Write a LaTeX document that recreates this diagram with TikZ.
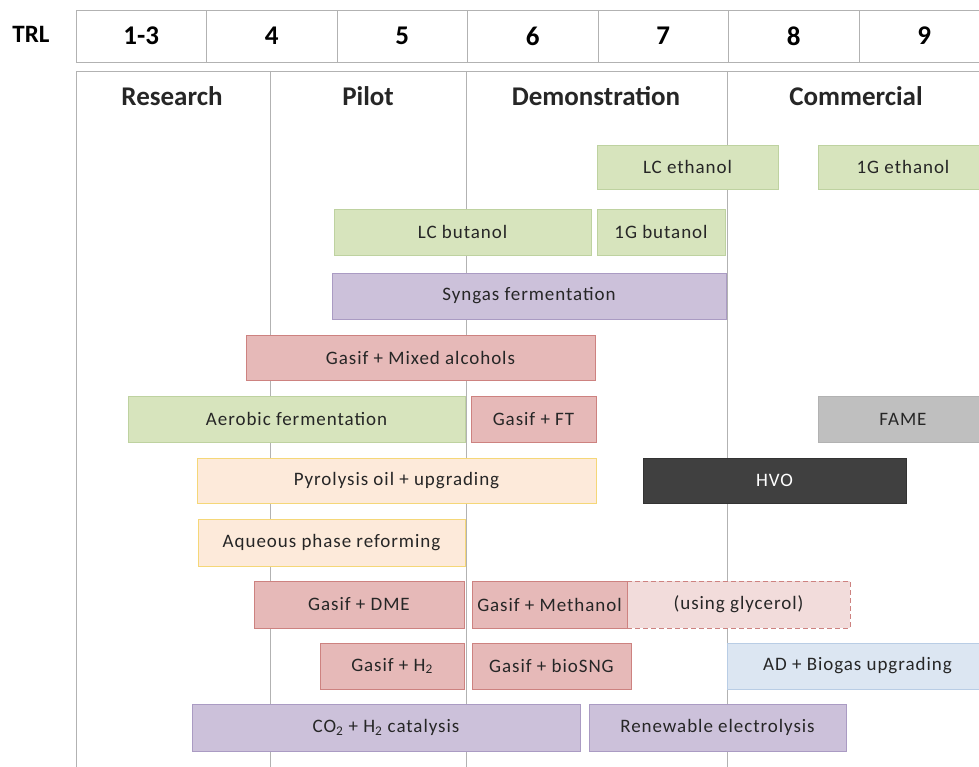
\documentclass[tikz,border=0pt]{standalone}
\usepackage{fontspec}
\setmainfont{Carlito}
\newfontfamily\barfont[LetterSpace=5]{Carlito}
\definecolor{gline}{RGB}{178,178,178}
\definecolor{gfill}{RGB}{215,228,189}
\definecolor{gdraw}{RGB}{190,210,160}
\definecolor{rfill}{RGB}{230,185,184}
\definecolor{rdraw}{RGB}{205,130,128}
\definecolor{pfill}{RGB}{204,193,218}
\definecolor{pdraw}{RGB}{170,155,195}
\definecolor{ofill}{RGB}{253,234,218}
\definecolor{odraw}{RGB}{245,215,120}
\definecolor{bfill}{RGB}{220,230,242}
\definecolor{bdraw}{RGB}{185,205,229}
\definecolor{pkfill}{RGB}{242,220,219}
\definecolor{txt}{RGB}{38,38,38}
\tikzset{
  bar/.style={rectangle, inner sep=0pt, text=txt, font=\barfont\fontsize{19}{21}\selectfont, line width=0.8pt},
  greenbar/.style={bar, fill=gfill, draw=gdraw},
  redbar/.style={bar, fill=rfill, draw=rdraw},
  purplebar/.style={bar, fill=pfill, draw=pdraw},
  orangebar/.style={bar, fill=ofill, draw=odraw},
  bluebar/.style={bar, fill=bfill, draw=bdraw},
  greybar/.style={bar, fill=black!25, draw=black!30},
  darkbar/.style={bar, fill=black!75, draw=black!80, text=white},
  dashbar/.style={bar, fill=pkfill, draw=rdraw, dash pattern=on 5pt off 3pt},
  cell/.style={rectangle, draw=gline, line width=0.8pt, inner sep=0pt, minimum height=52pt, minimum width=130.5pt, font=\fontsize{27}{29}\selectfont\bfseries, text=black},
  head/.style={font=\fontsize{27}{29}\selectfont\bfseries, text=txt, inner sep=0pt},
  trlhead/.style={font=\fontsize{25}{27}\selectfont\bfseries, text=black, inner sep=0pt},
  grid/.style={draw=gline, line width=0.8pt}
}
\newcommand\mkbar[7]{\node[#2, minimum width={(#5-#3)*1pt}, minimum height={(#6-#4)*1pt}] (#1) at ({(#3+#5)/2},{(#4+#6)/2}) {#7};}
\begin{document}
\begin{tikzpicture}[x=1pt,y=-1pt]
\useasboundingbox (0,0) rectangle (979,767);
\clip (0,0) rectangle (979,767);
% TRL row
\node[trlhead] (trl) at (31,34) {TRL};
\foreach \t [count=\i from 0] in {1-3,4,5,6,7,8,9} {
  \node[cell] (c\i) at ({76+130.5*\i+65.25},36) {\t};
}
% stage frame
\coordinate (f0) at (76,71);
\coordinate (f0b) at (76,767);
\coordinate (f1) at (270,71);
\coordinate (f1b) at (270,767);
\coordinate (f2) at (466,71);
\coordinate (f2b) at (466,767);
\coordinate (f3) at (727,71);
\coordinate (f3b) at (727,767);
\coordinate (fr) at (990,71);
\draw[grid] (f0) -- (fr);
\draw[grid] (f0) -- (f0b);
\draw[grid] (f1) -- (f1b);
\draw[grid] (f2) -- (f2b);
\draw[grid] (f3) -- (f3b);
\node[head] (research) at (172,96) {Research};
\node[head] (pilot) at (368,96) {Pilot};
\node[head] (demo) at (596,96) {Demonstration};
\node[head] (comm) at (856,96) {Commercial};
% bars
\mkbar{lceth}{greenbar}{597}{145}{778}{189}{LC ethanol}
\mkbar{gleth}{greenbar}{818}{145}{988}{189}{1G ethanol}
\mkbar{lcbut}{greenbar}{334}{209}{591}{255}{LC butanol}
\mkbar{glbut}{greenbar}{597}{209}{725}{255}{1G butanol}
\mkbar{syngas}{purplebar}{332}{273}{726}{319}{Syngas fermentation}
\mkbar{mixed}{redbar}{246}{335}{595}{380}{Gasif + Mixed alcohols}
\mkbar{aerobic}{greenbar}{128}{396}{465}{442}{Aerobic fermentation}
\mkbar{ft}{redbar}{471}{396}{596}{442}{Gasif + FT}
\mkbar{fame}{greybar}{818}{396}{988}{442}{FAME}
\mkbar{pyro}{orangebar}{197}{458}{596}{503}{Pyrolysis oil + upgrading}
\mkbar{hvo}{darkbar}{643}{458}{906}{503}{HVO}
\mkbar{aqueous}{orangebar}{198}{519}{465}{566}{Aqueous phase reforming}
\mkbar{dme}{redbar}{254}{581}{464}{628}{Gasif + DME}
\mkbar{glycerol}{dashbar}{627}{581}{850}{628}{(using glycerol)}
\mkbar{methanol}{redbar}{472}{581}{627}{628}{Gasif + Methanol}
\mkbar{hyd}{redbar}{320}{643}{464}{689}{Gasif + H\textsubscript{2}}
\mkbar{sng}{redbar}{472}{643}{631}{689}{Gasif + bioSNG}
\mkbar{ad}{bluebar}{727}{643}{988}{689}{AD + Biogas upgrading}
\mkbar{co2}{purplebar}{192}{704}{580}{751}{CO\textsubscript{2} + H\textsubscript{2} catalysis}
\mkbar{elec}{purplebar}{589}{704}{846}{751}{Renewable electrolysis}
\end{tikzpicture}
\end{document}
